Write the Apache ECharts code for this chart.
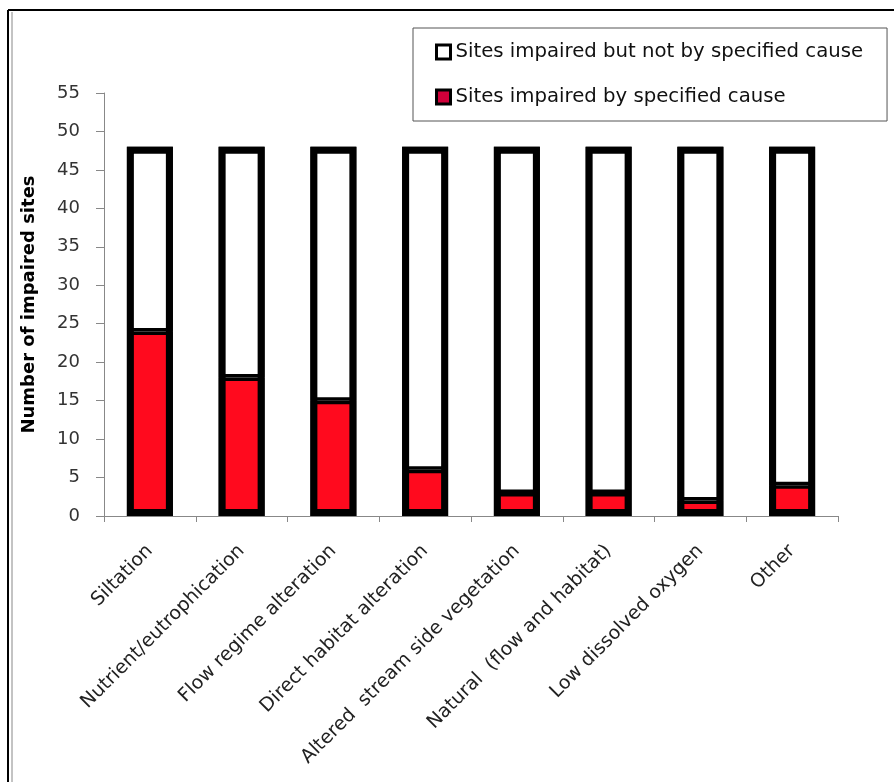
<!DOCTYPE html>
<html>
<head>
<meta charset="utf-8">
<script src="https://cdn.jsdelivr.net/npm/echarts@6/dist/echarts.min.js"></script>
<style>
html,body{margin:0;padding:0;background:#fff;}
#chart{width:894px;height:782px;}
</style>
</head>
<body>
<div id="chart"></div>
<script>
const categories = ["Siltation", "Nutrient/eutrophication", "Flow regime alteration", "Direct habitat alteration", "Altered  stream side vegetation", "Natural  (flow and habitat)", "Low dissolved oxygen", "Other"];
const impairedByCause = [24, 18, 15, 6, 3, 3, 2, 4];
const impairedNotByCause = [24, 30, 33, 42, 45, 45, 46, 44];
const yTicks = [0, 5, 10, 15, 20, 25, 30, 35, 40, 45, 50, 55];
const seriesNames = ["Sites impaired by specified cause", "Sites impaired but not by specified cause"];

// outline of each full stacked column (sum of the two series)
const totals = impairedByCause.map((v, i) => v + impairedNotByCause[i]);

const FONT = '"DejaVu Sans", sans-serif';
const BAR_W = 46;
const chart = echarts.init(document.getElementById('chart'), null, {renderer: 'canvas'});
chart.setOption({
  backgroundColor: '#ffffff',
  animation: false,
  graphic: [
    {type: 'line', shape: {x1: 8, y1: 10, x2: 894, y2: 10}, style: {stroke: '#000', lineWidth: 2}},
    {type: 'line', shape: {x1: 8, y1: 10, x2: 8, y2: 782}, style: {stroke: '#000', lineWidth: 2}},
    {type: 'line', shape: {x1: 12, y1: 12, x2: 12, y2: 782}, style: {stroke: '#888', lineWidth: 1}}
  ],
  legend: {
    orient: 'vertical',
    left: 413,
    top: 28,
    padding: [14, 24, 14, 22],
    itemGap: 25,
    itemWidth: 14,
    itemHeight: 14,
    borderColor: '#555',
    borderWidth: 1,
    icon: 'rect',
    textStyle: {fontFamily: FONT, fontSize: 19.7, color: '#111'},
    data: [
      {name: seriesNames[1], itemStyle: {color: '#fff', borderColor: '#000', borderWidth: 3}},
      {name: seriesNames[0], itemStyle: {color: '#d0003a', borderColor: '#000', borderWidth: 3}}
    ]
  },
  grid: {left: 104, right: 56, top: 93, bottom: 266},
  xAxis: {
    type: 'category',
    data: categories,
    axisLine: {lineStyle: {color: '#888', width: 1}},
    axisTick: {show: true, length: 6, lineStyle: {color: '#888'}},
    axisLabel: {rotate: 45, margin: 32, interval: 0, fontFamily: FONT, fontSize: 19, color: '#222'}
  },
  yAxis: {
    type: 'value',
    min: 0, max: 55, interval: 5,
    name: 'Number of impaired sites',
    nameLocation: 'middle',
    nameGap: 66,
    nameTextStyle: {fontFamily: FONT, fontSize: 18, fontWeight: 'bold', color: '#000'},
    splitLine: {show: false},
    axisLine: {show: true, lineStyle: {color: '#888', width: 1}},
    axisTick: {show: true, length: 8, lineStyle: {color: '#888'}},
    axisLabel: {margin: 24, fontFamily: FONT, fontSize: 18, color: '#333',
      formatter: v => yTicks.includes(v) ? String(v) : ''}
  },
  series: [
    {
      name: seriesNames[0], type: 'bar', stack: 'total', barWidth: BAR_W, z: 3,
      data: impairedByCause,
      itemStyle: {color: '#ff0a1e', borderColor: '#000', borderWidth: 3.5}
    },
    {
      name: seriesNames[1], type: 'bar', stack: 'total', barWidth: BAR_W, z: 2,
      data: impairedNotByCause,
      itemStyle: {color: '#ffffff', borderColor: '#000', borderWidth: 3.5}
    },
    {
      name: 'outline', type: 'bar', barWidth: BAR_W, barGap: '-100%', z: 4, silent: true,
      data: totals,
      itemStyle: {color: 'rgba(0,0,0,0)', borderColor: '#000', borderWidth: 7}
    }
  ]
});
</script>
</body>
</html>
